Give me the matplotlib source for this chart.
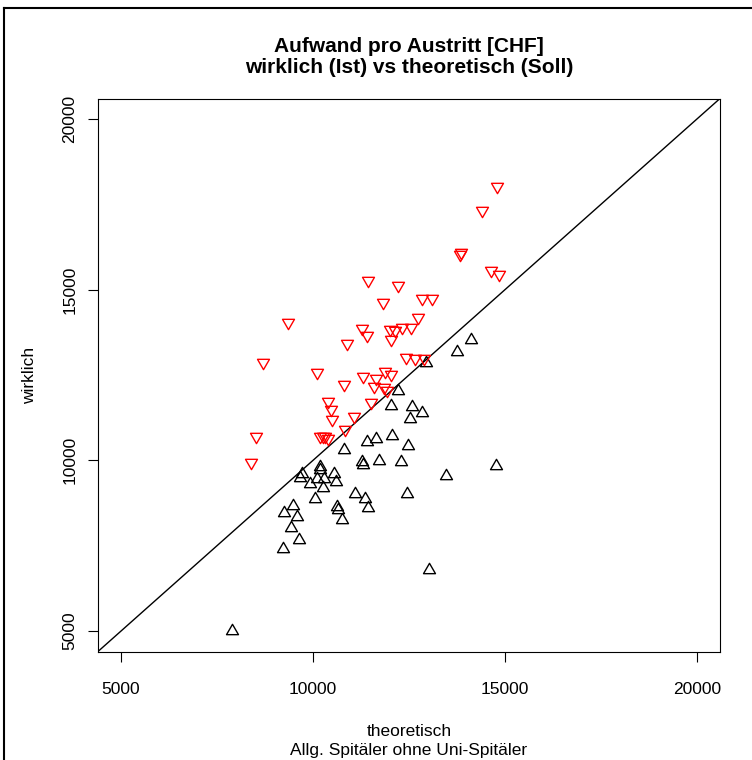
import matplotlib
matplotlib.use("Agg")
import matplotlib.pyplot as plt
from matplotlib.lines import Line2D
from matplotlib.path import Path

# ---- data ----
red_x = [14790, 14400, 13830, 13850, 14630, 14840, 11430, 12210, 11820, 12840,
         13100, 12730, 9350, 11280, 11410, 12000, 12130, 12320, 12550, 12030,
         10890, 8700, 10100, 12420, 12660, 12890, 11300, 11640, 11870, 12030,
         10810, 11590, 11850, 11930, 10390, 10470, 10490, 11510, 11070, 10830,
         8520, 10180, 10260, 10310, 10390, 8390]
red_y = [17980, 17280, 16000, 16050, 15530, 15410, 15230, 15090, 14590, 14710,
         14710, 14150, 13980, 13830, 13600, 13800, 13770, 13860, 13860, 13510,
         13390, 12810, 12540, 12980, 12950, 12950, 12400, 12340, 12570, 12460,
         12190, 12130, 12100, 11990, 11670, 11460, 11140, 11640, 11230, 10850,
         10640, 10640, 10640, 10640, 10610, 9880]

black_x = [14110, 13750, 12940, 12210, 12030, 12580, 12840, 12530, 10810, 11410,
           11640, 12060, 12470, 11280, 11300, 11720, 12290, 14770, 13460, 10180,
           10180, 9710, 9660, 10550, 9920, 10100, 10290, 10600, 10260, 10050,
           11090, 11350, 11430, 10620, 10650, 9480, 9240, 9580, 10760, 9430,
           9640, 9220, 12450, 13020, 7890]
black_y = [13570, 13220, 12900, 12080, 11640, 11610, 11460, 11260, 10350, 10610,
           10670, 10760, 10470, 10000, 9910, 10030, 10000, 9880, 9590, 9850,
           9770, 9650, 9530, 9650, 9360, 9500, 9500, 9420, 9240, 8920,
           9060, 8920, 8660, 8680, 8600, 8710, 8510, 8390, 8300, 8070,
           7720, 7460, 9060, 6840, 5060]

ticks = [5000, 10000, 15000, 20000]
tick_labels = ["5000", "10000", "15000", "20000"]
lim = (4400, 20600)

title = "Aufwand pro Austritt [CHF]\nwirklich (Ist) vs theoretisch (Soll)"
xlabel = "theoretisch"
ylabel = "wirklich"
subtitle = "Allg. Spitäler ohne Uni-Spitäler"

# ---- figure ----
plt.rcParams['font.family'] = ['Liberation Sans', 'DejaVu Sans']
W, H = 752, 760
fig = plt.figure(figsize=(W / 100, H / 100), dpi=100)

def fx(px):
    return px / W

def fy(py):
    return 1 - py / H

ax_l, ax_r, ax_t, ax_b = 98, 720, 98.5, 651.5
ax = fig.add_axes([fx(ax_l), fy(ax_b), (ax_r - ax_l) / W, (ax_b - ax_t) / H])

up_tri = Path([(-1, -0.866), (1, -0.866), (0, 0.866), (-1, -0.866)], closed=True)
down_tri = Path([(-1, 0.866), (1, 0.866), (0, -0.866), (-1, 0.866)], closed=True)

ax.plot(lim, lim, color="black", lw=1.0, zorder=1)
ax.plot(black_x, black_y, linestyle="none", marker=up_tri, ms=8.6,
        mfc="none", mec="black", mew=1.0, zorder=2)
ax.plot(red_x, red_y, linestyle="none", marker=down_tri, ms=8.6,
        mfc="none", mec="#FF0000", mew=1.0, zorder=3)

ax.set_xlim(lim)
ax.set_ylim(lim)
ax.set_xticks(ticks)
ax.set_yticks(ticks)
ax.set_xticklabels(tick_labels)
ax.set_yticklabels(tick_labels, rotation=90, va="center")
ax.tick_params(direction="out", length=7, width=0.8, labelsize=12.5, color="black")
ax.tick_params(axis="x", pad=15)
ax.tick_params(axis="y", pad=8)
for s in ax.spines.values():
    s.set_linewidth(0.8)

fig.text(fx(409), fy(57), title, ha="center", va="center", fontsize=15,
         fontweight="bold", linespacing=1.18)
fig.text(fx(409), fy(732), xlabel, ha="center", va="center", fontsize=12.5)
fig.text(fx(409), fy(750), subtitle, ha="center", va="center", fontsize=12.5)
fig.text(fx(30), fy(375), ylabel, ha="center", va="center", fontsize=12.5,
         rotation=90)

# outer frame (left and top edges visible in the reference)
fig.add_artist(Line2D([fx(4), fx(4)], [fy(8), 0], transform=fig.transFigure,
                      color="black", lw=1.5))
fig.add_artist(Line2D([fx(4), 1], [fy(8), fy(8)], transform=fig.transFigure,
                      color="black", lw=1.5))

fig.savefig("out.png", dpi=100)
